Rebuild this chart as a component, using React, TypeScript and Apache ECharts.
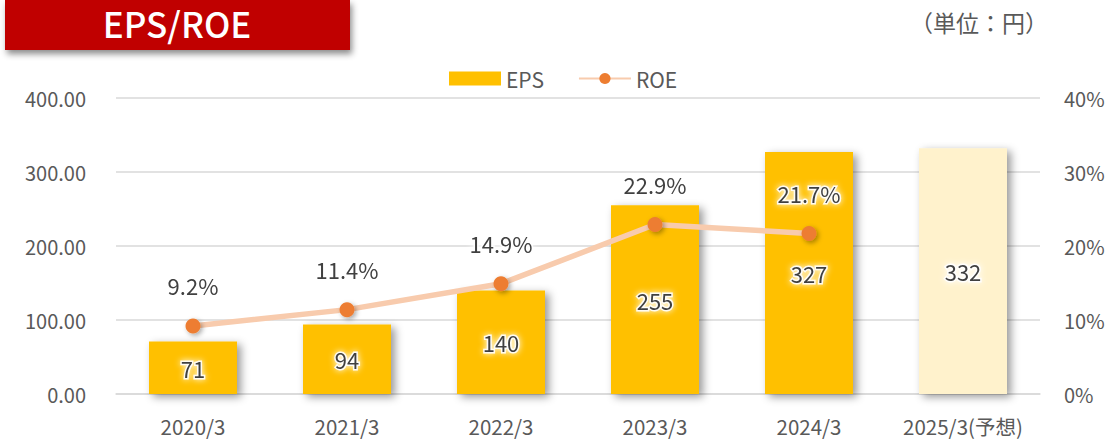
import React, { useEffect, useRef } from "react";
import * as echarts from "echarts";

const categories = ["2020/3", "2021/3", "2022/3", "2023/3", "2024/3", "2025/3(予想)"];
const epsValues = [71, 94, 140, 255, 327, 332];
const roeValues: (number | null)[] = [9.2, 11.4, 14.9, 22.9, 21.7, null];
const leftTicks = [0, 100, 200, 300, 400];
const rightTicks = [0, 10, 20, 30, 40];

const FONT = '"Noto Sans CJK JP", "Noto Sans", sans-serif';

export default function App() {
  const ref = useRef<HTMLDivElement>(null);
  useEffect(() => {
    if (!ref.current) return;
    const chart = echarts.init(ref.current, null, { renderer: "svg" });
    const labelStyle = {
      fontSize: 22,
      color: "#404040",
      fontFamily: FONT,
      textBorderColor: "rgba(255,255,255,0.9)",
      textBorderWidth: 3,
      textShadowColor: "#ffffff",
      textShadowBlur: 6,
    };
    chart.setOption({
      animation: false,
      textStyle: { fontFamily: FONT },
      graphic: [
        {
          type: "rect",
          shape: { x: 5, y: 0, width: 345, height: 50 },
          style: {
            fill: "#C00000",
            shadowBlur: 6,
            shadowOffsetX: 2,
            shadowOffsetY: 4,
            shadowColor: "rgba(0,0,0,0.45)",
          },
        },
        {
          type: "text",
          x: 177,
          y: 22,
          style: {
            text: "EPS/ROE",
            fill: "#ffffff",
            font: `500 35px ${FONT}`,
            align: "center",
            verticalAlign: "middle",
          },
        },
        {
          type: "text",
          x: 1048,
          y: 22,
          style: {
            text: "（単位：円）",
            fill: "#595959",
            font: `23px ${FONT}`,
            align: "right",
            verticalAlign: "middle",
          },
        },
      ],
      legend: {
        left: 444,
        top: 63,
        itemWidth: 52,
        itemHeight: 14,
        itemGap: 34,
        textStyle: { fontSize: 21, color: "#595959", fontFamily: FONT },
        data: [
          { name: "EPS", icon: "rect" },
          { name: "ROE" },
        ],
      },
      grid: { left: 116, right: 72, top: 98, bottom: 49 },
      xAxis: {
        type: "category",
        data: categories,
        axisLine: { lineStyle: { color: "#D9D9D9", width: 1.5 } },
        axisTick: { show: false },
        axisLabel: {
          fontSize: 20.5,
          color: "#595959",
          margin: 22,
          interval: 0,
          hideOverlap: false,
          fontFamily: FONT,
        },
      },
      yAxis: [
        {
          type: "value",
          min: leftTicks[0],
          max: leftTicks[leftTicks.length - 1],
          interval: 100,
          axisLabel: {
            fontSize: 20,
            color: "#595959",
            margin: 30,
            fontFamily: FONT,
            formatter: (v: number) => v.toFixed(2),
          },
          splitLine: { lineStyle: { color: "#D9D9D9", width: 1.5 } },
          axisLine: { show: false },
          axisTick: { show: false },
        },
        {
          type: "value",
          min: rightTicks[0],
          max: rightTicks[rightTicks.length - 1],
          interval: 10,
          axisLabel: {
            fontSize: 20,
            color: "#595959",
            margin: 24,
            fontFamily: FONT,
            formatter: (v: number) => `${v}%`,
          },
          splitLine: { show: false },
          axisLine: { show: false },
          axisTick: { show: false },
        },
      ],
      series: [
        {
          name: "EPS",
          type: "bar",
          yAxisIndex: 0,
          barWidth: 88,
          itemStyle: {
            color: "#FFC000",
            shadowBlur: 8,
            shadowOffsetX: 4,
            shadowOffsetY: 3,
            shadowColor: "rgba(0,0,0,0.4)",
          },
          data: epsValues.map((v, i) =>
            i === epsValues.length - 1
              ? { value: v, itemStyle: { color: "#FFF2CC" } }
              : v
          ),
          label: {
            show: true,
            position: "inside",
            ...labelStyle,
          },
          z: 2,
        },
        {
          name: "ROE",
          type: "line",
          yAxisIndex: 1,
          data: roeValues,
          symbol: "circle",
          symbolSize: 15,
          lineStyle: { color: "#F8CBAD", width: 5.5 },
          itemStyle: {
            color: "#ED7D31",
            shadowBlur: 5,
            shadowOffsetX: 2,
            shadowOffsetY: 2,
            shadowColor: "rgba(0,0,0,0.35)",
          },
          label: {
            show: true,
            position: "top",
            distance: 22,
            formatter: (p: any) => `${Number(p.value).toFixed(1)}%`,
            ...labelStyle,
          },
          z: 3,
        },
      ],
    });
    return () => chart.dispose();
  }, []);
  return (
    <div
      ref={ref}
      style={{ position: "absolute", left: 0, top: 0, width: 1112, height: 443 }}
    />
  );
}
